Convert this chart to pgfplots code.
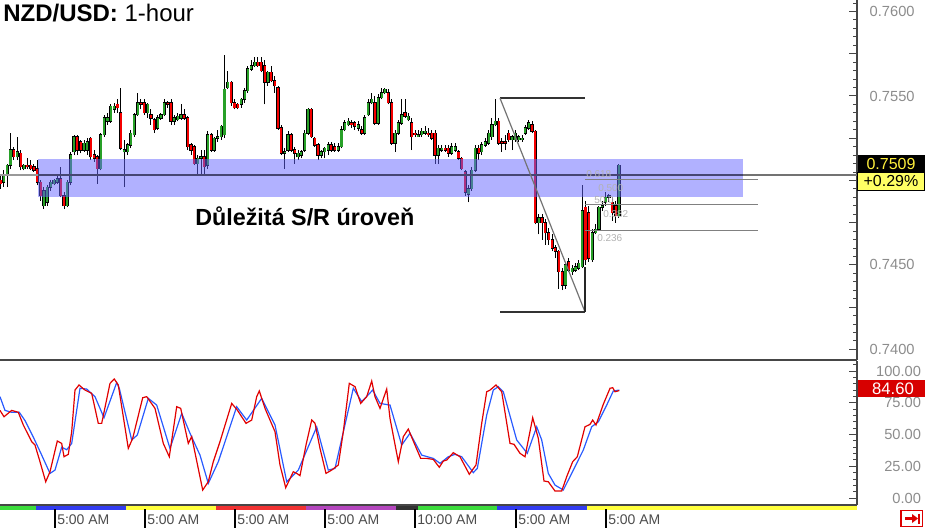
\documentclass[border=0pt]{standalone}
\usepackage{fontspec}
\setmainfont{Liberation Sans}
\usepackage{pgfplots}
\usepackage{pgfplotstable}
\pgfplotsset{compat=1.18}
\definecolor{cgreen}{RGB}{40,160,40}
\definecolor{cred}{RGB}{245,0,0}
\definecolor{band}{RGB}{100,100,255}
\definecolor{stochred}{RGB}{225,0,0}
\definecolor{stochblue}{RGB}{40,90,255}
\definecolor{axisgray}{RGB}{70,70,70}
\definecolor{lvlband}{RGB}{70,70,115}
\definecolor{pyellow}{RGB}{255,240,60}
\definecolor{lyellow}{RGB}{255,255,100}
\definecolor{boxred}{RGB}{215,0,0}
\definecolor{sgreen}{RGB}{60,220,60}
\definecolor{sblue}{RGB}{50,60,240}
\definecolor{syellow}{RGB}{255,255,60}
\definecolor{sred}{RGB}{240,50,50}
\definecolor{spurple}{RGB}{180,70,190}
\definecolor{sblack}{RGB}{50,50,50}
\definecolor{btnred}{RGB}{220,0,0}

\pgfplotstableread{
i o h l c
0 0.7500 0.7503 0.7495 0.7498
1 0.7499 0.7506 0.7496 0.7503
2 0.7503 0.7510 0.7496 0.7509
3 0.7509 0.7528 0.7507 0.7518
4 0.7518 0.7520 0.7512 0.7514
5 0.7514 0.7526 0.7512 0.7517
6 0.7516 0.7518 0.7506 0.7508
7 0.7507 0.7510 0.7506 0.7509
8 0.7509 0.7513 0.7507 0.7508
9 0.7509 0.7512 0.7506 0.7507
10 0.7508 0.7510 0.7505 0.7506
11 0.7507 0.7512 0.7497 0.7499
12 0.7499 0.7500 0.7488 0.7491
13 0.7485 0.7496 0.7483 0.7494
14 0.7487 0.7497 0.7485 0.7496
15 0.7496 0.7500 0.7494 0.7499
16 0.7498 0.7501 0.7497 0.7500
17 0.7499 0.7504 0.7498 0.7501
18 0.7501 0.7508 0.7490 0.7491
19 0.7491 0.7493 0.7483 0.7485
20 0.7485 0.7500 0.7484 0.7499
21 0.7499 0.7517 0.7497 0.7515
22 0.7517 0.7527 0.7515 0.7526
23 0.7526 0.7527 0.7515 0.7518
24 0.7523 0.7524 0.7516 0.7518
25 0.7518 0.7524 0.7517 0.7522
26 0.7518 0.7525 0.7515 0.7523
27 0.7525 0.7526 0.7512 0.7514
28 0.7515 0.7518 0.7511 0.7513
29 0.7514 0.7515 0.7498 0.7507
30 0.7507 0.7528 0.7506 0.7527
31 0.7527 0.7539 0.7526 0.7537
32 0.7535 0.7540 0.7533 0.7537
33 0.7535 0.7545 0.7534 0.7544
34 0.7542 0.7546 0.7540 0.7544
35 0.7545 0.7548 0.7540 0.7543
36 0.7540 0.7555 0.7518 0.7519
37 0.7517 0.7524 0.7496 0.7518
38 0.7517 0.7522 0.7515 0.7521
39 0.7521 0.7530 0.7519 0.7528
40 0.7527 0.7540 0.7526 0.7539
41 0.7539 0.7552 0.7538 0.7546
42 0.7546 0.7548 0.7542 0.7545
43 0.7546 0.7548 0.7539 0.7540
44 0.7540 0.7546 0.7537 0.7545
45 0.7539 0.7542 0.7533 0.7537
46 0.7536 0.7537 0.7528 0.7530
47 0.7531 0.7539 0.7530 0.7537
48 0.7537 0.7540 0.7536 0.7539
49 0.7539 0.7548 0.7538 0.7546
50 0.7546 0.7547 0.7543 0.7545
51 0.7546 0.7548 0.7533 0.7535
52 0.7535 0.7539 0.7533 0.7537
53 0.7536 0.7540 0.7535 0.7538
54 0.7537 0.7545 0.7536 0.7539
55 0.7539 0.7542 0.7536 0.7537
56 0.7537 0.7538 0.7518 0.7520
57 0.7521 0.7522 0.7515 0.7518
58 0.7520 0.7521 0.7509 0.7510
59 0.7510 0.7515 0.7503 0.7513
60 0.7513 0.7518 0.7503 0.7514
61 0.7514 0.7518 0.7503 0.7508
62 0.7509 0.7529 0.7507 0.7527
63 0.7527 0.7528 0.7517 0.7518
64 0.7518 0.7526 0.7517 0.7525
65 0.7525 0.7530 0.7523 0.7526
66 0.7526 0.7533 0.7524 0.7532
67 0.7527 0.7574 0.7525 0.7554
68 0.7555 0.7565 0.7554 0.7558
69 0.7558 0.7559 0.7544 0.7546
70 0.7546 0.7548 0.7542 0.7543
71 0.7545 0.7546 0.7542 0.7543
72 0.7545 0.7549 0.7543 0.7548
73 0.7548 0.7555 0.7546 0.7553
74 0.7553 0.7568 0.7552 0.7566
75 0.7566 0.7571 0.7565 0.7568
76 0.7568 0.7573 0.7567 0.7570
77 0.7570 0.7573 0.7567 0.7568
78 0.7570 0.7573 0.7564 0.7565
79 0.7568 0.7571 0.7545 0.7558
80 0.7558 0.7565 0.7556 0.7564
81 0.7564 0.7568 0.7558 0.7559
82 0.7559 0.7562 0.7552 0.7556
83 0.7555 0.7556 0.7530 0.7531
84 0.7531 0.7533 0.7515 0.7516
85 0.7516 0.7519 0.7507 0.7517
86 0.7518 0.7529 0.7517 0.7527
87 0.7527 0.7528 0.7517 0.7518
88 0.7518 0.7520 0.7510 0.7516
89 0.7514 0.7518 0.7512 0.7516
90 0.7515 0.7518 0.7513 0.7517
91 0.7518 0.7530 0.7517 0.7528
92 0.7528 0.7543 0.7527 0.7542
93 0.7542 0.7543 0.7525 0.7526
94 0.7525 0.7526 0.7520 0.7521
95 0.7521 0.7522 0.7512 0.7515
96 0.7515 0.7518 0.7513 0.7517
97 0.7517 0.7520 0.7513 0.7519
98 0.7518 0.7523 0.7515 0.7521
99 0.7521 0.7523 0.7517 0.7518
100 0.7520 0.7522 0.7517 0.7518
101 0.7518 0.7522 0.7517 0.7520
102 0.7520 0.7532 0.7519 0.7530
103 0.7530 0.7536 0.7529 0.7534
104 0.7533 0.7537 0.7532 0.7535
105 0.7534 0.7536 0.7531 0.7533
106 0.7534 0.7535 0.7530 0.7532
107 0.7531 0.7535 0.7529 0.7533
108 0.7530 0.7532 0.7527 0.7528
109 0.7528 0.7539 0.7527 0.7537
110 0.7539 0.7548 0.7538 0.7546
111 0.7546 0.7552 0.7545 0.7548
112 0.7546 0.7550 0.7533 0.7534
113 0.7534 0.7551 0.7533 0.7549
114 0.7549 0.7555 0.7548 0.7552
115 0.7552 0.7555 0.7551 0.7554
116 0.7552 0.7554 0.7545 0.7546
117 0.7546 0.7548 0.7521 0.7522
118 0.7522 0.7530 0.7517 0.7528
119 0.7528 0.7536 0.7527 0.7534
120 0.7534 0.7548 0.7533 0.7539
121 0.7540 0.7548 0.7537 0.7538
122 0.7536 0.7540 0.7535 0.7538
123 0.7534 0.7537 0.7518 0.7526
124 0.7528 0.7530 0.7526 0.7527
125 0.7526 0.7530 0.7526 0.7527
126 0.7527 0.7531 0.7526 0.7529
127 0.7528 0.7532 0.7527 0.7529
128 0.7528 0.7531 0.7526 0.7527
129 0.7528 0.7530 0.7524 0.7525
130 0.7528 0.7530 0.7510 0.7515
131 0.7515 0.7521 0.7510 0.7519
132 0.7518 0.7521 0.7517 0.7519
133 0.7519 0.7521 0.7517 0.7518
134 0.7519 0.7521 0.7514 0.7516
135 0.7516 0.7522 0.7515 0.7520
136 0.7518 0.7522 0.7517 0.7520
137 0.7517 0.7518 0.7512 0.7513
138 0.7513 0.7514 0.7506 0.7507
139 0.7505 0.7506 0.7491 0.7493
140 0.7492 0.7497 0.7487 0.7495
141 0.7495 0.7508 0.7494 0.7506
142 0.7506 0.7521 0.7505 0.7519
143 0.7519 0.7521 0.7512 0.7516
144 0.7517 0.7523 0.7515 0.7521
145 0.7521 0.7525 0.7520 0.7523
146 0.7522 0.7530 0.7521 0.7528
147 0.7526 0.7537 0.7524 0.7533
148 0.7533 0.7548 0.7532 0.7535
149 0.7535 0.7537 0.7521 0.7522
150 0.7523 0.7525 0.7517 0.7522
151 0.7523 0.7527 0.7518 0.7522
152 0.7528 0.7530 0.7523 0.7524
153 0.7524 0.7527 0.7518 0.7526
154 0.7524 0.7530 0.7523 0.7528
155 0.7524 0.7527 0.7523 0.7526
156 0.7524 0.7527 0.7523 0.7525
157 0.7528 0.7533 0.7527 0.7531
158 0.7531 0.7536 0.7530 0.7534
159 0.7533 0.7535 0.7528 0.7529
160 0.7529 0.7530 0.7474 0.7475
161 0.7475 0.7480 0.7468 0.7478
162 0.7478 0.7480 0.7465 0.7475
163 0.7475 0.7477 0.7462 0.7469
164 0.7469 0.7472 0.7462 0.7465
165 0.7465 0.7468 0.7458 0.7460
166 0.7460 0.7462 0.7454 0.7458
167 0.7458 0.7459 0.7436 0.7446
168 0.7446 0.7448 0.7435 0.7438
169 0.7438 0.7452 0.7436 0.7450
170 0.7452 0.7454 0.7446 0.7447
171 0.7446 0.7450 0.7444 0.7448
172 0.7447 0.7451 0.7446 0.7449
173 0.7448 0.7453 0.7447 0.7451
174 0.7449 0.7497 0.7448 0.7482
175 0.7484 0.7488 0.7450 0.7453
176 0.7481 0.7485 0.7452 0.7454
177 0.7453 0.7471 0.7452 0.7469
178 0.7469 0.7474 0.7468 0.7471
179 0.7471 0.7485 0.7470 0.7484
180 0.7484 0.7488 0.7482 0.7485
181 0.7487 0.7493 0.7485 0.7490
182 0.7490 0.7492 0.7487 0.7491
183 0.7487 0.7490 0.7476 0.7481
184 0.7485 0.7488 0.7475 0.7479
185 0.7479 0.7510 0.7478 0.7509
}\candles

\pgfplotsset{
  chartaxis/.style={
    scale only axis, width=642.75pt,
    xmin=0, xmax=857, xtick=\empty,
    axis x line*=bottom, axis y line*=right,
    axis line style={-, draw=axisgray, line width=1.3pt},
    every outer x axis line/.append style={-},
    every outer y axis line/.append style={-},
    tick align=inside,
    major tick length=6pt, minor tick length=3pt,
    tick style={draw=axisgray, line width=0.7pt},
    /pgf/number format/assume math mode=true,
    clip=true,
  },
}

\begin{document}
\begin{tikzpicture}
\path[use as bounding box] (0pt,0pt) rectangle (693.75pt,-396pt);

% ---------------- main price panel ----------------
\begin{axis}[chartaxis,
  at={(0pt,-270pt)}, anchor=south west, height=270pt,
  ymin=0.73937, ymax=0.76068,
  ytick={0.7400,0.7425,0.7450,0.7475,0.7500,0.7525,0.7550,0.7575,0.7600},
  yticklabels={0.7400,,0.7450,,,,0.7550,,0.7600},
  minor ytick={0.7405,0.7410,0.7415,0.7420,0.7430,0.7435,0.7440,0.7445,0.7455,0.7460,0.7465,0.7470,0.7480,0.7485,0.7490,0.7495,0.7505,0.7510,0.7515,0.7520,0.7530,0.7535,0.7540,0.7545,0.7555,0.7560,0.7565,0.7570,0.7580,0.7585,0.7590,0.7595,0.7605},
  yticklabel style={font=\fontsize{11}{11}\selectfont, text=black!45, anchor=west, xshift=6pt},
]
% wicks
\addplot[draw=none, mark=none, forget plot,
  error bars/.cd, y dir=plus, y explicit, error mark=none,
  error bar style={draw=black, line width=0.7pt}]
  table[x expr={0.5+3.343*\thisrow{i}}, y=l, y error expr={\thisrow{h}-\thisrow{l}}] {\candles};
% body outlines
\addplot[draw=none, mark=none, forget plot,
  error bars/.cd, y dir=plus, y explicit, error mark=none,
  error bar style={draw=black, line width=2.4pt}]
  table[x expr={0.5+3.343*\thisrow{i}}, y expr={min(\thisrow{o},\thisrow{c})-0.000035},
        y error expr={abs(\thisrow{c}-\thisrow{o})+0.00007}] {\candles};
% green bodies
\addplot[draw=none, mark=none, forget plot,
  restrict expr to domain={\thisrow{c}-\thisrow{o}}{0:1},
  error bars/.cd, y dir=plus, y explicit, error mark=none,
  error bar style={draw=cgreen, line width=1.55pt}]
  table[x expr={0.5+3.343*\thisrow{i}}, y=o, y error expr={\thisrow{c}-\thisrow{o}}] {\candles};
% red bodies
\addplot[draw=none, mark=none, forget plot,
  restrict expr to domain={\thisrow{o}-\thisrow{c}}{0.000001:1},
  error bars/.cd, y dir=plus, y explicit, error mark=none,
  error bar style={draw=cred, line width=1.55pt}]
  table[x expr={0.5+3.343*\thisrow{i}}, y=c, y error expr={\thisrow{o}-\thisrow{c}}] {\candles};

% support / resistance band
\addplot[draw=none, fill=band, fill opacity=0.5, forget plot]
  coordinates {(38,0.74900) (743,0.74900) (743,0.75125) (38,0.75125)} -- cycle;

% horizontal level line
\addplot[black!40, line width=1.3pt, forget plot] coordinates {(0,0.75032) (38,0.75032)};
\addplot[lvlband, line width=1.2pt, forget plot] coordinates {(38,0.75032) (743,0.75032)};
\addplot[black!55, line width=1.2pt, forget plot] coordinates {(743,0.75032) (857,0.75032)};

% Fibonacci tool
\addplot[black!80, line width=1.2pt, forget plot] coordinates {(500,0.75487) (585,0.75487)};
\addplot[black!80, line width=1.2pt, forget plot] coordinates {(500,0.74222) (585,0.74222)};
\addplot[black!55, line width=0.9pt, forget plot] coordinates {(500,0.75487) (585,0.74222)};
\addplot[black!85, line width=0.9pt, forget plot] coordinates {(585,0.74222) (585,0.74490)};
\addplot[black!50, line width=0.7pt, forget plot] coordinates {(585,0.75004) (758,0.75004)};
\addplot[black!50, line width=0.7pt, forget plot] coordinates {(585,0.74855) (758,0.74855)};
\addplot[black!50, line width=0.7pt, forget plot] coordinates {(585,0.74705) (758,0.74705)};
\end{axis}

% ---------------- stochastic panel ----------------
\begin{axis}[chartaxis,
  at={(0pt,-378.75pt)}, anchor=south west, height=108pt,
  ymin=-5.5, ymax=107.9,
  ytick={0,25,50,75,100},
  yticklabels={0.00,25.00,50.00,75.00,100.00},
  minor ytick={5,10,15,20,30,35,40,45,55,60,65,70,80,85,90,95,105},
  yticklabel style={font=\fontsize{11}{11}\selectfont, text=black!45, anchor=east, xshift=51.5pt},
]
\addplot[stochblue, line width=0.9pt] coordinates {
(0,79.8) (5,69) (11.7,67.5) (19.3,67.5) (25,61) (33.3,48) (41.7,33.8) (50,19.4) (55,22) (61.7,40) (66.7,38) (71.7,43) (80,86.4) (86.7,85.8) (95,79.8) (104,63.2) (116.7,90.9) (119.3,86.4) (131.7,45.7) (137.3,49.6) (148.3,78.5) (156.7,73.2) (170,39) (181.7,66.7) (190,51) (200,33.8) (208.3,11.5) (218.3,28.6) (236.7,71.9) (246.7,61.4) (261.7,78.5) (275,57.5) (286.7,12.8) (298.3,22) (316.7,56) (328.3,22) (335,23.3) (353.3,86.4) (361.7,75.9) (372.7,85) (380,74.5) (390,73.2) (401.7,41.7) (410,51) (421.7,33.8) (433.3,31.2) (440,27.3) (448.3,32.5) (455,34.4) (461.7,32.5) (473.3,20) (477.3,23.3) (486.7,65.3) (493.3,85) (498.3,87.7) (503.3,83.7) (516.7,45.7) (527.3,35.2) (536.7,56.1) (541.7,45.7) (548.3,19.4) (555,10.2) (563.3,6.3) (573.3,22) (583.3,37.8) (591.7,56.1) (598.3,60) (606.7,73.2) (613.3,84.3) (619.3,85)
};
\addplot[stochred, line width=0.9pt] coordinates {
(0,69) (4,64) (11.7,69) (18.3,67.5) (23.3,57.5) (31.7,44.4) (35,41.7) (40,28.6) (45.7,12.8) (50,20.7) (57.3,44.9) (61.7,43) (64,32.5) (68.3,34.4) (71.7,52.2) (75,85) (79,89) (85,85) (91.7,82.4) (98.3,58.8) (101.7,58.8) (110,90.3) (114.3,93.7) (118.3,89) (128.3,39.1) (132.7,47) (142.7,79) (146.7,79.8) (155,70.6) (163.3,43) (169.3,32.5) (176.7,71.9) (180.7,70.6) (188.3,43) (191.7,48.3) (202.7,6.3) (208.3,12.8) (213.3,28.6) (220,44.4) (231.7,74.5) (237.3,69.3) (246,58.8) (251.7,61.4) (256.7,79.8) (259.3,84.3) (265,70.6) (275,52.2) (280,26) (285.7,8.1) (293.3,20.7) (296.7,19.4) (300,17.6) (306,41.7) (311.7,61.4) (315,58.8) (320,39.1) (326,19.4) (331.7,22) (338.3,26) (343.3,52.2) (349.3,90.3) (355,87.7) (360.7,74.5) (366.7,79.8) (371.7,92.1) (375,79.8) (380,70.6) (386.7,85.8) (390,62.7) (398.3,28.6) (403.3,48.3) (408.3,54.3) (415,41.7) (420.7,31.2) (426.7,31.2) (433.3,30.4) (439.3,24.2) (443.3,29.1) (446.7,29.9) (453.3,35.7) (460,32.5) (469.3,18.7) (476,26) (481.7,58.8) (486.7,83.7) (490,85) (496,89) (501.7,83.7) (510,43) (514,42.3) (520,35.2) (525,32.5) (532.7,63.2) (538.3,47) (544,13.4) (548.3,12.8) (555,5.5) (561.7,5.5) (566.7,16.8) (572.7,28.6) (577.3,32.5) (585,56.1) (590,58) (592.7,61.4) (596,57.5) (603.3,73.8) (610,86.4) (612.7,86.9) (615,83.7) (619.3,84.6)
};
\end{axis}

% ---------------- annotations in pixel coordinates ----------------
\begin{scope}[x=0.75pt, y=-0.75pt]
% title
\node[anchor=base west, inner sep=0pt, font=\fontsize{18}{18}\selectfont] at (3,22)
  {\textbf{NZD/USD:} 1-hour};
% band label
\node[anchor=base west, inner sep=0pt, font=\bfseries\fontsize{17.5}{17.5}\selectfont] at (195,225)
  {Důležitá S/R úroveň};
% faint fibonacci labels
\begin{scope}[every node/.style={anchor=base west, inner sep=0pt, text=black!30, font=\fontsize{7.5}{7.5}\selectfont}]
\node at (586,177) {0.618};
\node at (598,191) {0.500};
\node at (594,203) {50.0};
\node at (603,217) {0.382};
\node at (597,241) {0.236};
\end{scope}
% price boxes
\fill[black] (857.5,155) rectangle (925,172);
\node[text=pyellow, font=\fontsize{12}{12}\selectfont, inner sep=0pt] at (891,163.5) {0.7509};
\filldraw[fill=lyellow, draw=black, line width=0.6pt] (857.5,172) rectangle (924.5,190);
\node[text=black, font=\fontsize{12}{12}\selectfont, inner sep=0pt] at (891,181) {+0.29\%};
\fill[boxred] (857.5,380) rectangle (925,397);
\node[text=white, font=\fontsize{12.5}{12.5}\selectfont, inner sep=0pt] at (893,388.5) {84.60};
% session strip
\begin{scope}[line width=3pt]
\draw[sgreen] (0,507.5) -- (36,507.5);
\draw[sblue] (36,507.5) -- (126,507.5);
\draw[syellow] (126,507.5) -- (216,507.5);
\draw[sred] (216,507.5) -- (306,507.5);
\draw[spurple] (306,507.5) -- (396,507.5);
\draw[sblack] (396,507.5) -- (418,507.5);
\draw[sgreen] (418,507.5) -- (497,507.5);
\draw[sblue] (497,507.5) -- (587,507.5);
\draw[syellow] (587,507.5) -- (857,507.5);
\end{scope}
\foreach \xx/\lab in {55/5:00 AM,145/5:00 AM,235/5:00 AM,325/5:00 AM,415/10:00 AM,516/5:00 AM,606/5:00 AM}{
  \draw[black, line width=0.8pt] (\xx,509) -- (\xx,528);
  \node[anchor=base west, inner sep=0pt, text=black!70, font=\fontsize{10.5}{10.5}\selectfont] at (\xx+2,524) {\lab};
}
% scroll-to-end button
\draw[btnred, line width=0.9pt] (901,510.5) rectangle (922.5,526.5);
\draw[btnred, line width=2pt] (905,518.5) -- (913,518.5);
\fill[btnred] (918,518.5) -- (912,514) -- (912,523) -- cycle;
\draw[btnred, line width=1.5pt] (919,513.5) -- (919,523.5);
\end{scope}
\end{tikzpicture}
\end{document}
